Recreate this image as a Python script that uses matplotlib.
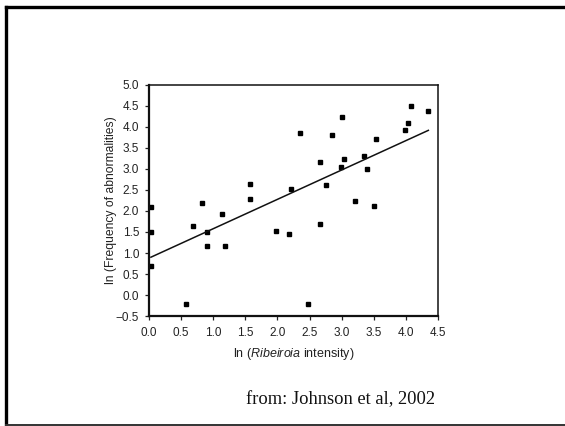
import matplotlib
matplotlib.use("Agg")
import matplotlib.pyplot as plt
from matplotlib.lines import Line2D

# ln(Ribeiroia intensity) vs ln(frequency of abnormalities)
ln_intensity = [0.03, 0.03, 0.03, 0.58, 0.69, 0.83, 0.90, 0.90, 1.14, 1.19,
                1.58, 1.58, 1.98, 2.18, 2.21, 2.35, 2.47, 2.67, 2.67, 2.76,
                2.85, 2.99, 3.00, 3.04, 3.21, 3.35, 3.39, 3.51, 3.53, 3.98,
                4.03, 4.08, 4.34]
ln_abnormal = [2.10, 1.50, 0.68, -0.22, 1.65, 2.18, 1.49, 1.17, 1.93, 1.17,
               2.64, 2.29, 1.52, 1.46, 2.52, 3.85, -0.21, 3.17, 1.70, 2.63,
               3.80, 3.05, 4.24, 3.24, 2.23, 3.30, 3.01, 2.12, 3.71, 3.94,
               4.09, 4.51, 4.38]

# fitted line as drawn in the source
fit_x = [0.03, 4.35]
fit_y = [0.90, 3.92]

xticks = [0.0, 0.5, 1.0, 1.5, 2.0, 2.5, 3.0, 3.5, 4.0, 4.5]
yticks = [-0.5, 0.0, 0.5, 1.0, 1.5, 2.0, 2.5, 3.0, 3.5, 4.0, 4.5, 5.0]

plt.rcParams['font.family'] = ['Liberation Sans', 'DejaVu Sans']
plt.rcParams['mathtext.fontset'] = 'custom'
plt.rcParams['mathtext.rm'] = 'Liberation Sans'
plt.rcParams['mathtext.it'] = 'Liberation Sans:italic'

fig = plt.figure(figsize=(5.65, 4.26), dpi=100)
ax = fig.add_axes([0.2637, 0.2582, 0.5115, 0.5423])

ax.plot(ln_intensity, ln_abnormal, 's', color='black', markersize=3.4)
ax.plot(fit_x, fit_y, '-', color='#111111', linewidth=1.1)

ax.set_xlim(0, 4.5)
ax.set_ylim(-0.5, 5.0)
ax.set_xticks(xticks)
ax.set_yticks(yticks)
ax.set_xticklabels([f"{t:.1f}" for t in xticks])
ax.set_yticklabels([f"{t:.1f}".replace('-', '\u2212') for t in yticks])
ax.tick_params(direction='out', length=3, width=0.9,
               labelsize=8.5, colors='#222222')
ax.tick_params(axis='x', pad=5)
ax.tick_params(axis='y', pad=4)

for side in ['left', 'bottom']:
    ax.spines[side].set_linewidth(1.6)
for side in ['top', 'right']:
    ax.spines[side].set_linewidth(1.1)
for sp in ax.spines.values():
    sp.set_color('#111111')

ax.set_xlabel(r"ln ($\mathit{Ribeiroia}$ intensity)", fontsize=9,
              color='#222222')
ax.set_ylabel("ln (Frequency of abnormalities)", fontsize=8.7,
              color='#222222')
ax.xaxis.set_label_coords(0.5, -0.128)
ax.yaxis.set_label_coords(-0.112, 0.5)

fig.text(0.4354, 0.061, "from: Johnson et al, 2002", family='Liberation Serif',
         fontsize=13.3, color='#111111', va='center')

# slide frame
fig.add_artist(Line2D([0.0115, 0.0115], [0.0023, 0.9847], color='black',
                      linewidth=2.4, transform=fig.transFigure))
fig.add_artist(Line2D([0.0115, 1.0], [0.9847, 0.9847], color='black',
                      linewidth=2.4, transform=fig.transFigure))
fig.add_artist(Line2D([0.0115, 1.0], [0.0023, 0.0023], color='#333333',
                      linewidth=1.4, transform=fig.transFigure))

plt.savefig("out.png", dpi=100)
